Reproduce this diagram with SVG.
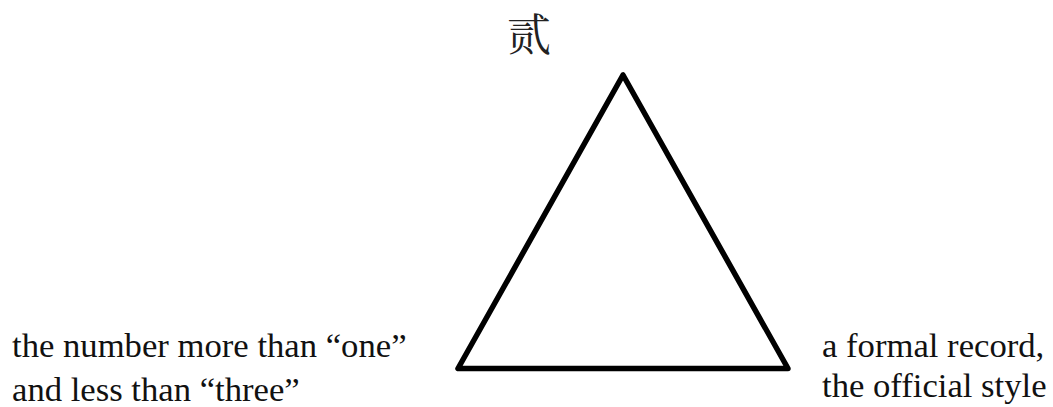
<svg xmlns="http://www.w3.org/2000/svg" width="1053" height="407" viewBox="0 0 1053 407">
<style>
.tri{fill:none;stroke:#000;stroke-width:5.5;stroke-linejoin:round}
</style>
<rect width="1053" height="407" fill="#fff"/>
<g id="connectors">
<polygon class="tri" points="623,75 458,368.5 788,368.5"/>
</g>
<g id="node-top"><text x="529" y="50.5" text-anchor="middle" font-family="Noto Serif CJK SC, Noto Sans CJK SC, serif" font-size="44" fill="#222">贰</text></g>
<g id="node-left"><text x="12" y="357" font-family="Times New Roman" font-size="34.67" fill="#111">the number more than “one”</text><text x="12" y="401" font-family="Times New Roman" font-size="34.67" fill="#111">and less than “three”</text></g>
<g id="node-right"><text x="822" y="357" font-family="Times New Roman" font-size="34.67" fill="#111">a formal record,</text><text x="822" y="397" font-family="Times New Roman" font-size="34.67" fill="#111">the official style</text></g>
</svg>
